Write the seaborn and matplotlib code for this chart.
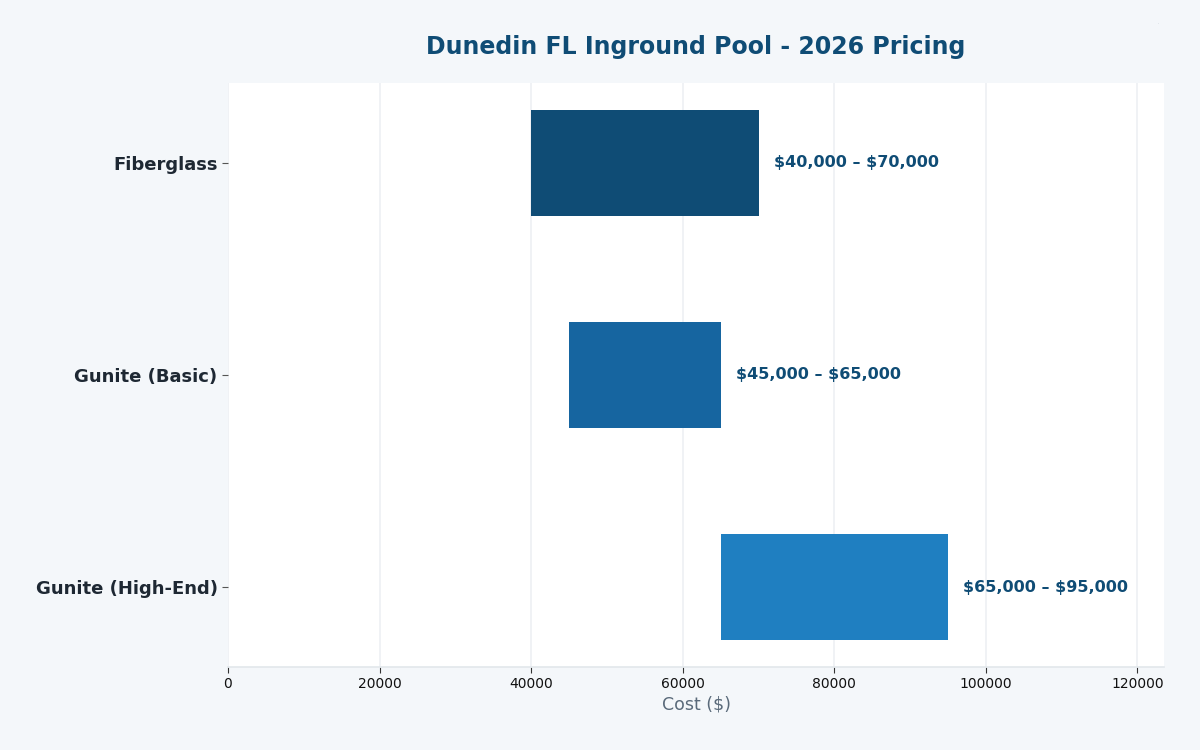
import matplotlib
matplotlib.use("Agg")
import matplotlib.pyplot as plt
import seaborn as sns
import pandas as pd

categories = ["Fiberglass", "Gunite (Basic)", "Gunite (High-End)"]
low_values = [40000, 45000, 65000]
high_values = [70000, 65000, 95000]
range_labels = ["\\$40,000 \u2013 \\$70,000", "\\$45,000 \u2013 \\$65,000", "\\$65,000 \u2013 \\$95,000"]
bar_colors = ["#0F4C75", "#1665A0", "#1F7FC1"]

sns.set_theme(style="white")
plt.rcParams['font.family'] = ['DejaVu Sans']

df = pd.DataFrame({"category": categories, "low": low_values, "high": high_values})

fig = plt.figure(figsize=(12, 7.5), dpi=100, facecolor="#F4F7FA")
ax = fig.add_axes([0.19, 0.111, 0.78, 0.778])
ax.set_facecolor("white")

sns.barplot(data=df, y="category", x="high", hue="category", palette=bar_colors,
            orient="h", width=0.5, dodge=False, legend=False, saturation=1,
            linewidth=0, ax=ax, zorder=3)

for patch, lo, hi, lab in zip(ax.patches, low_values, high_values, range_labels):
    patch.set_x(lo)
    patch.set_width(hi - lo)
    patch.set_linewidth(0)
    yc = patch.get_y() + patch.get_height() / 2
    ax.text(hi + 2000, yc, lab, va="center", ha="left", fontsize=11.5,
            fontweight="bold", color="#0F4C75", zorder=4)

ax.set_xlim(0, 123500)
ax.set_ylim(2.375, -0.375)
ax.grid(axis="x", color="#EDF0F3", linewidth=1.2, zorder=0)
ax.set_axisbelow(True)
for s in ["top", "right", "left"]:
    ax.spines[s].set_visible(False)
ax.spines["bottom"].set_color("#E3E8EC")
ax.tick_params(axis="x", which="both", bottom=True, length=4, width=0.8, color="#333333",
               labelsize=10, labelcolor="#111111")
ax.tick_params(axis="y", which="both", left=True, length=4, width=0.8, color="#555555")
ax.set_yticks(range(len(categories)))
ax.set_yticklabels(categories, fontsize=13, fontweight="bold", color="#1E2833")
ax.set_ylabel("")
ax.set_xlabel("Cost (\\$)", fontsize=12.5, color="#5A6A7A", labelpad=3)
ax.set_title("Dunedin FL Inground Pool - 2026 Pricing", fontsize=17, fontweight="bold",
             color="#0F4C75", pad=21)

fig.text(0.965, 0.968, ".", fontsize=3, color="#9AA5B0")

fig.savefig("out.png", dpi=100, facecolor=fig.get_facecolor())
